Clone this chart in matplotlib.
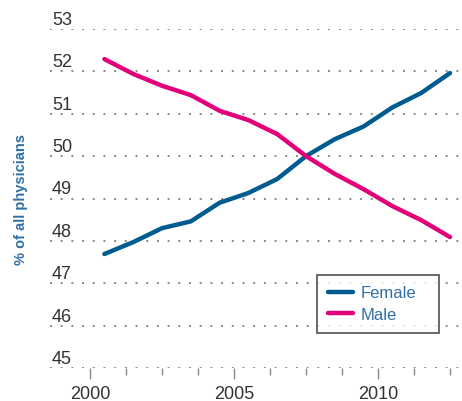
import matplotlib
matplotlib.use("Agg")
import matplotlib.pyplot as plt
import matplotlib.transforms as mtransforms

years = [2000.5, 2001.5, 2002.5, 2003.5, 2004.5, 2005.5, 2006.5, 2007.5,
         2008.5, 2009.5, 2010.5, 2011.5, 2012.5]
female = [47.69, 47.97, 48.30, 48.46, 48.90, 49.13, 49.46, 50.00,
          50.40, 50.70, 51.15, 51.49, 51.96]
male = [52.29, 51.94, 51.66, 51.44, 51.07, 50.85, 50.52, 50.00,
        49.58, 49.22, 48.82, 48.49, 48.09]
ytick_vals = [45, 46, 47, 48, 49, 50, 51, 52, 53]
xtick_labels = ["2000", "2005", "2010"]
xtick_vals = [2000, 2005, 2010]

plt.rcParams["font.family"] = ["Liberation Sans", "DejaVu Sans"]

BLUE = "#005c8f"
PINK = "#e2007a"
TXT_BLUE = "#2f70a6"

fig = plt.figure(figsize=(4.62, 4.02), dpi=100)
ax = fig.add_axes([50/462, 1-369/402, 412/462, 339/402])
x0 = 2000 + (50-90)/28.8
x1 = 2000 + (462-90)/28.8
ax.set_xlim(x0, x1)
ax.set_ylim(45, 53)

for s in ax.spines.values():
    s.set_visible(False)

for v in ytick_vals:
    ax.axhline(v, color="#888888", linestyle=(0, (1, 4.5)), linewidth=1.4, zorder=1)
ax.set_yticks([])
trans = mtransforms.blended_transform_factory(ax.transAxes, ax.transData)
for v in ytick_vals:
    ax.text(0.005, v + 0.12, str(v), transform=trans, ha="left", va="baseline",
            fontsize=13, color="#333333")

ax.plot(years, female, color=BLUE, linewidth=3.2, solid_capstyle="round", label="Female", zorder=3)
ax.plot(years, male, color=PINK, linewidth=3.2, solid_capstyle="round", label="Male", zorder=3)

minor = [2000 + 1.25*i for i in range(0, 11)]
ax.set_xticks(xtick_vals)
ax.set_xticklabels(xtick_labels, fontsize=13, color="#333333")
ax.set_xticks([m for m in minor if m not in xtick_vals], minor=True)
ax.tick_params(axis="x", which="major", length=8, width=1, color="#888888", pad=4)
ax.tick_params(axis="x", which="minor", length=5, width=1, color="#888888")

fig.text(21/462, 1-200/402, "% of all physicians", rotation=90, ha="center", va="center",
         fontsize=10.5, fontweight="bold", color=TXT_BLUE)

leg = ax.legend(loc="upper left", bbox_to_anchor=((317-50)/412, (369-279)/339, (439-317)/412, 0.01),
                mode="expand", frameon=True, fancybox=False, fontsize=12, handlelength=1.5,
                handletextpad=0.45, borderpad=0.65, labelspacing=0.4, borderaxespad=0)
leg.get_frame().set_edgecolor("#222222")
leg.get_frame().set_linewidth(1.2)
for t in leg.get_texts():
    t.set_color(TXT_BLUE)

fig.savefig("out.png", dpi=100)
